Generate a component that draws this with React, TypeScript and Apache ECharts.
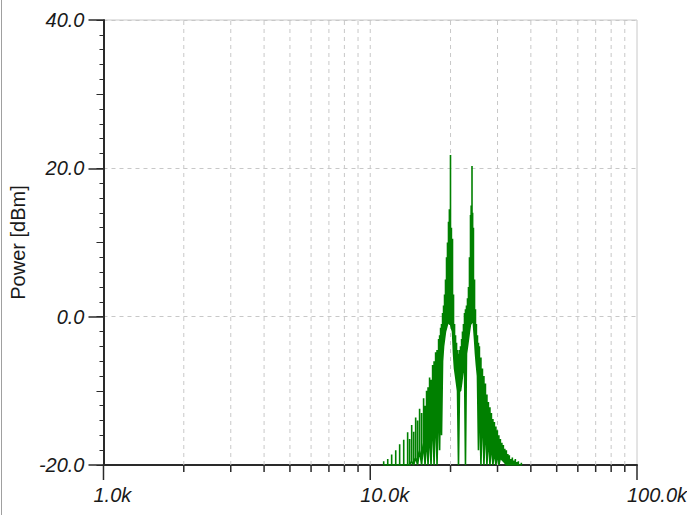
import React, { useEffect, useRef } from "react";
import * as echarts from "echarts";

// ---- data ----
const yMin = -20;
const yMax = 40;
const xMin = 1000;
const xMax = 100000;

const xMajorTicks = [1000, 10000, 100000];
const xTickLabels = ["1.0k", "10.0k", "100.0k"];
const xMinorTicks = [
  2000, 3000, 4000, 5000, 6000, 7000, 8000, 9000,
  20000, 30000, 40000, 50000, 60000, 70000, 80000, 90000,
];
const xGridLines = [
  2000, 3000, 4000, 5000, 6000, 7000, 8000, 9000, 10000,
  20000, 30000, 40000, 50000, 60000, 70000, 80000, 90000,
];

// spectrum: comb line frequencies (kHz), top and bottom of each line (dBm)
const specFreqKHz = [
  11.23, 11.63, 12.03, 12.46, 12.89, 13.35, 13.81, 14.05, 14.3, 14.55,
  14.8, 15.05, 15.31, 15.58, 15.85, 16.05, 16.26, 16.47, 16.69, 16.9,
  17.13, 17.35, 17.58, 17.8, 18.04, 18.2, 18.35, 18.5, 18.67, 18.83,
  18.99, 19.15, 19.32, 19.48, 19.65, 19.8, 19.99, 20.15, 20.34, 20.52,
  20.7, 20.88, 21.06, 21.24, 21.42, 21.6, 21.8, 22.0, 22.17, 22.36,
  22.56, 22.75, 22.95, 23.15, 23.35, 23.55, 23.76, 23.9, 24.07, 24.2,
  24.37, 24.6, 24.8, 25.0, 25.23, 25.45, 25.66, 26.0, 26.34, 26.68,
  27.03, 27.38, 27.73, 28.1, 28.46, 28.83, 29.2, 29.58, 29.96, 30.35,
  30.75, 31.15, 31.55, 31.95, 32.38, 32.8, 33.22, 33.65, 34.09, 34.54,
  34.99, 35.45, 35.91, 36.85,
];
const specPeakDbm = [
  -19.5, -19.2, -18.6, -18.0, -17.2, -16.6, -15.6, -16.5, -14.6, -15.5,
  -13.6, -14.0, -12.4, -13.0, -11.0, -12.0, -10.0, -9.5, -8.2, -8.5,
  -6.5, -6.0, -4.8, -4.5, -3.0, -2.5, -1.5, -1.0, 0.5, 1.5,
  3.0, 5.0, 8.0, 10.0, 12.8, 14.5, 21.8, 12.0, 10.5, 3.0,
  -1.0, -2.5, -3.5, -4.5, -5.0, -4.5, -4.0, -3.0, -2.0, -1.0,
  0.5, 1.0, 1.5, 2.5, 4.0, 8.0, 13.7, 15.0, 20.3, 14.0,
  12.0, 5.0, 1.0, -1.0, -2.5, -3.5, -4.0, -5.5, -7.0, -8.0,
  -9.0, -10.5, -11.5, -12.2, -13.0, -13.8, -14.2, -14.8, -15.3, -16.0,
  -16.5, -17.0, -17.3, -17.8, -18.0, -18.5, -18.7, -19.2, -19.0, -19.4,
  -19.2, -19.6, -19.5, -19.7,
];
const specTroughDbm = [
  -20, -20, -20, -20, -20, -20, -20, -20, -19.5, -20,
  -19, -20, -18, -20, -17, -20, -16, -20, -15, -20,
  -13, -20, -12, -20, -10, -18, -8, -16, -6, -4,
  -3, -2, -1.5, -1, -0.5, -1, -1, -1.5, -2, -5,
  -7, -8, -9, -10, -20, -10, -10, -9, -8, -7,
  -6, -20, -5, -4, -3, -2, -1, -1, 0, -0.5,
  -1, -3, -5, -6.5, -8, -18, -9, -20, -12, -20,
  -14, -20, -16, -20, -17, -20, -18, -20, -18.5, -20,
  -19, -19.3, -19.5, -19.7, -20, -20, -20, -20, -20, -20,
  -20, -20, -20, -20,
];

const FONT = '"Liberation Sans", Arial, sans-serif';
const TXT = "#1a1a1a";
const AXIS = "#2a2a2a";
const GRID = "#c8c8c8";

export default function App() {
  const ref = useRef<HTMLDivElement>(null);

  useEffect(() => {
    if (!ref.current) return;
    const chart = echarts.init(ref.current, null, { renderer: "svg" });

    const specData: number[][] = [];
    specFreqKHz.forEach((f, i) => {
      const hz = f * 1000;
      specData.push([hz, specTroughDbm[i]]);
      specData.push([hz, specPeakDbm[i]]);
      specData.push([hz, specTroughDbm[i]]);
    });

    const option: any = {
      animation: false,
      backgroundColor: "#ffffff",
      grid: {
        left: 103,
        right: 50,
        top: 20,
        bottom: 50,
        show: true,
        borderColor: GRID,
        borderWidth: 1,
        backgroundColor: "transparent",
      },
      xAxis: {
        type: "log",
        logBase: 10,
        min: xMin,
        max: xMax,
        axisLine: { show: true, onZero: false, lineStyle: { color: AXIS, width: 2 } },
        axisTick: { show: false },
        axisLabel: { show: false },
        splitLine: { show: false },
        minorTick: { show: false },
      },
      yAxis: [
        {
          type: "value",
          min: yMin,
          max: yMax,
          interval: 20,
          position: "left",
          name: "Power [dBm]",
          nameLocation: "middle",
          nameGap: 66,
          nameTextStyle: { fontFamily: FONT, fontSize: 20, color: TXT },
          axisLine: { show: true, onZero: false, lineStyle: { color: AXIS, width: 2 } },
          axisTick: { show: true, length: 15, lineStyle: { color: AXIS, width: 1.5 } },
          minorTick: { show: true, splitNumber: 10, length: 4, lineStyle: { color: AXIS, width: 1 } },
          axisLabel: {
            margin: 19,
            fontFamily: FONT,
            fontSize: 20,
            fontStyle: "italic",
            color: TXT,
            formatter: (v: number) => v.toFixed(1),
          },
          splitLine: { show: true, lineStyle: { color: GRID, type: [4, 4], width: 1 } },
        },
        {
          type: "value",
          min: yMin,
          max: yMax,
          interval: 10,
          position: "left",
          axisLine: { show: false },
          axisTick: { show: true, length: 7, lineStyle: { color: AXIS, width: 1 } },
          axisLabel: { show: false },
          splitLine: { show: false },
        },
      ],
      series: [
        {
          type: "custom",
          name: "xgrid",
          z: 1,
          silent: true,
          clip: false,
          data: xGridLines.map((f) => [f, yMin]),
          renderItem: (params: any, api: any) => {
            const f = api.value(0);
            const b = api.coord([f, yMin]);
            const t = api.coord([f, yMax]);
            return {
              type: "line",
              shape: { x1: b[0], y1: b[1], x2: t[0], y2: t[1] },
              style: { stroke: GRID, lineWidth: 1, lineDash: [4, 4] },
            };
          },
        },
        {
          type: "custom",
          name: "xminor",
          z: 4,
          silent: true,
          clip: false,
          data: xMinorTicks.map((f) => [f, yMin]),
          renderItem: (params: any, api: any) => {
            const f = api.value(0);
            const b = api.coord([f, yMin]);
            return {
              type: "line",
              shape: { x1: b[0], y1: b[1], x2: b[0], y2: b[1] + 7 },
              style: { stroke: AXIS, lineWidth: 1.5 },
            };
          },
        },
        {
          type: "custom",
          name: "xmajor",
          z: 4,
          silent: true,
          clip: false,
          data: xMajorTicks.map((f) => [f, yMin]),
          renderItem: (params: any, api: any) => {
            const f = api.value(0);
            const b = api.coord([f, yMin]);
            return {
              type: "group",
              children: [
                {
                  type: "line",
                  shape: { x1: b[0], y1: b[1], x2: b[0], y2: b[1] + 15 },
                  style: { stroke: AXIS, lineWidth: 1.5 },
                },
                {
                  type: "text",
                  x: b[0] - 10,
                  y: b[1] + 30,
                  style: {
                    text: xTickLabels[params.dataIndex],
                    fontFamily: FONT,
                    fontSize: 20,
                    fontStyle: "italic",
                    fill: TXT,
                    align: "left",
                    verticalAlign: "middle",
                  },
                },
              ],
            };
          },
        },
        {
          type: "line",
          name: "Power",
          z: 3,
          data: specData,
          showSymbol: false,
          symbol: "none",
          lineStyle: { color: "#008000", width: 1.6 },
          itemStyle: { color: "#008000" },
        },
      ],
      graphic: [
        {
          type: "line",
          shape: { x1: 1.5, y1: 0, x2: 1.5, y2: 515 },
          style: { stroke: "#a0a0a0", lineWidth: 1 },
        },
      ],
    };

    chart.setOption(option);
    return () => chart.dispose();
  }, []);

  return (
    <div
      ref={ref}
      style={{ position: "fixed", left: 0, top: 0, width: 687, height: 515, background: "#fff" }}
    />
  );
}
